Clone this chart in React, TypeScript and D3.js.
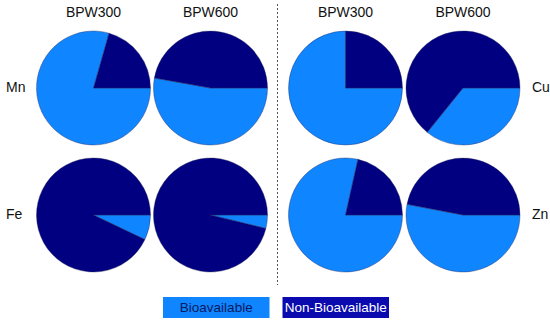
import React, { useEffect, useRef } from 'react';
import * as d3 from 'd3';

const elements = ['Mn', 'Fe', 'Cu', 'Zn'];
const treatments = ['BPW300', 'BPW600'];
const categories = ['Bioavailable', 'Non-Bioavailable'];
// percent bioavailable, per element, [BPW300, BPW600]
const bioavailable: Record<string, number[]> = {
  Mn: [79.4, 52.8],
  Fe: [7.1, 3.8],
  Cu: [75.0, 35.8],
  Zn: [78.5, 53.0],
};

const LIGHT = '#0F85FF';
const DARK = '#000080';
const LEGEND_DARK = '#0A0AAE';

const App: React.FC = () => {
  const ref = useRef<SVGSVGElement>(null);

  useEffect(() => {
    const svg = d3.select(ref.current);
    svg.selectAll('*').remove();

    const r = 57;
    // column centres: left group (Mn, Fe) then right group (Cu, Zn)
    const xs = [93.5, 210.5, 345.5, 463];
    const rowY = d3.scalePoint<number>().domain([0, 1]).range([88, 215]);

    // pies start at 3 o'clock and run clockwise
    const pie = d3.pie<number>().sort(null).value(d => d)
      .startAngle(Math.PI / 2).endAngle(Math.PI / 2 + 2 * Math.PI);
    const arc = d3.arc<d3.PieArcDatum<number>>().innerRadius(0).outerRadius(r);
    const color = d3.scaleOrdinal<number, string>().domain([0, 1]).range([LIGHT, DARK]);

    const font = 'Liberation Sans, Arial, sans-serif';

    elements.forEach((el, i) => {
      const group = i < 2 ? 0 : 1;
      const row = i % 2;
      treatments.forEach((t, j) => {
        const cx = xs[group * 2 + j];
        const cy = rowY(row)!;
        const v = bioavailable[el][j];
        const g = svg.append('g').attr('transform', `translate(${cx},${cy})`);
        g.selectAll('path')
          .data(pie([v, 100 - v]))
          .enter()
          .append('path')
          .attr('d', arc)
          .attr('fill', (d, k) => color(k))
          .attr('stroke', '#2a2a5a')
          .attr('stroke-width', 0.4);
      });
      // row labels
      svg.append('text')
        .attr('x', group === 0 ? 6 : 532)
        .attr('y', rowY(row)! - 1)
        .attr('dy', '0.35em')
        .attr('font-family', font)
        .attr('font-size', 14)
        .attr('fill', '#111')
        .text(el);
    });

    // column titles
    xs.forEach((x, k) => {
      svg.append('text')
        .attr('x', x)
        .attr('y', 12)
        .attr('dy', '0.35em')
        .attr('text-anchor', 'middle')
        .attr('font-family', font)
        .attr('font-size', 14)
        .attr('fill', '#111')
        .text(treatments[k % 2]);
    });

    // divider
    svg.append('line')
      .attr('x1', 277.5).attr('x2', 277.5)
      .attr('y1', 4).attr('y2', 285)
      .attr('stroke', '#555')
      .attr('stroke-width', 1)
      .attr('stroke-dasharray', '2,2');

    // legend
    const legend = [
      { x: 163, fill: LIGHT, text: '#0a1a60' },
      { x: 282.5, fill: LEGEND_DARK, text: '#ffffff' },
    ];
    legend.forEach((l, k) => {
      svg.append('rect')
        .attr('x', l.x).attr('y', 297)
        .attr('width', 106.5).attr('height', 21)
        .attr('fill', l.fill);
      svg.append('text')
        .attr('x', l.x + 53.25).attr('y', 307.5)
        .attr('dy', '0.35em')
        .attr('text-anchor', 'middle')
        .attr('font-family', font)
        .attr('font-size', 13.5)
        .attr('fill', l.text)
        .text(categories[k]);
    });
  }, []);

  return (
    <svg ref={ref} width={550} height={322} style={{ position: 'absolute', left: 0, top: 0, background: '#fff' }} />
  );
};

export default App;
